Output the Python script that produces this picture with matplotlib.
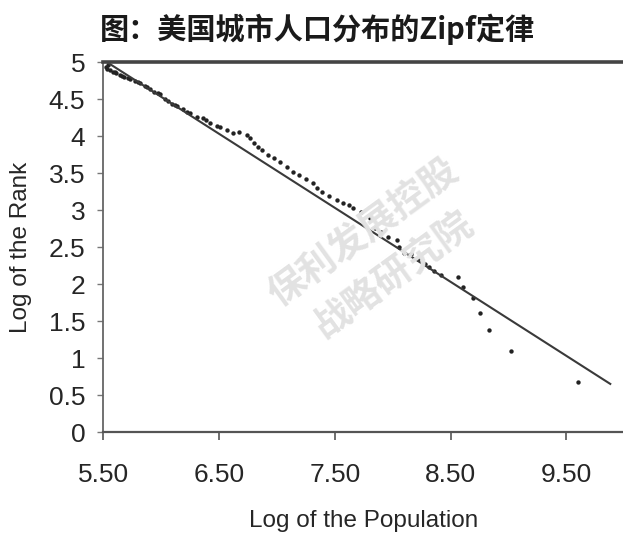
import numpy as np
import matplotlib
matplotlib.use("Agg")
import matplotlib.pyplot as plt

plt.rcParams['font.family'] = ['Liberation Sans', 'Noto Sans CJK SC', 'DejaVu Sans']

# Zipf plot for US cities
log_pop = [5.52, 5.53, 5.54, 5.56, 5.58, 5.60, 5.61, 5.64, 5.66, 5.68, 5.71,
           5.73, 5.77, 5.80, 5.82, 5.86, 5.88, 5.90, 5.94, 5.97, 5.99, 6.03,
           6.06, 6.09, 6.12, 6.14, 6.19, 6.22, 6.25, 6.31, 6.36, 6.39, 6.42,
           6.48, 6.51, 6.57, 6.62, 6.67, 6.74, 6.77, 6.80, 6.84, 6.87, 6.92,
           6.97, 7.03, 7.09, 7.14, 7.19, 7.25, 7.31, 7.35, 7.39, 7.45, 7.52,
           7.57, 7.62, 7.66, 7.73, 7.80, 7.85, 7.90, 7.96, 8.04, 8.05, 8.10,
           8.16, 8.22, 8.28, 8.31, 8.36, 8.42, 8.56, 8.61, 8.69, 8.75, 8.83,
           9.02, 9.60]
log_rank = [4.93, 4.90, 4.96, 4.89, 4.87, 4.86, 4.85, 4.83, 4.81, 4.80, 4.78,
            4.77, 4.75, 4.73, 4.72, 4.68, 4.66, 4.64, 4.60, 4.58, 4.57, 4.50,
            4.47, 4.44, 4.42, 4.40, 4.36, 4.33, 4.31, 4.26, 4.24, 4.22, 4.18,
            4.13, 4.12, 4.08, 4.04, 4.05, 4.01, 3.97, 3.91, 3.85, 3.81, 3.74,
            3.70, 3.65, 3.58, 3.51, 3.47, 3.42, 3.36, 3.30, 3.25, 3.19, 3.14,
            3.10, 3.07, 3.03, 2.97, 2.89, 2.76, 2.70, 2.63, 2.59, 2.50, 2.42,
            2.40, 2.34, 2.27, 2.23, 2.18, 2.12, 2.09, 1.96, 1.81, 1.61, 1.38,
            1.09, 0.68]

# fitted Zipf line: log_rank = intercept + slope * log_pop
fit_intercept = 10.53
fit_slope = -1.0
fit_range = [5.53, 9.88]

x_ticks = [5.5, 6.5, 7.5, 8.5, 9.5]
x_tick_labels = ['5.50', '6.50', '7.50', '8.50', '9.50']
y_ticks = [0, 0.5, 1, 1.5, 2, 2.5, 3, 3.5, 4, 4.5, 5]
y_tick_labels = ['0', '0.5', '1', '1.5', '2', '2.5', '3', '3.5', '4', '4.5', '5']

fig = plt.figure(figsize=(6.23, 5.40), dpi=100)
ax = fig.add_axes([0.166, 0.2, 0.834, 0.685])

# watermark
wm_color = '#e2e2e2'
fig.text(0.583, 0.570, '保利发展控股', rotation=36, ha='center', va='center',
         fontsize=27, fontweight='bold', color=wm_color,
         family=['Noto Sans CJK SC'], zorder=0)
fig.text(0.632, 0.491, '战略研究院', rotation=36, ha='center', va='center',
         fontsize=27, fontweight='bold', color=wm_color,
         family=['Noto Sans CJK SC'], zorder=0)
ax.patch.set_alpha(0)

fx = np.array(fit_range)
ax.plot(fx, fit_intercept + fit_slope * fx, color='#3a3a3a', linewidth=1.5)
ax.scatter(log_pop, log_rank, s=10, color='#222222', linewidths=0)

ax.set_xlim(5.5, 9.99)
ax.set_ylim(0, 5)
ax.set_xticks(x_ticks)
ax.set_xticklabels(x_tick_labels)
ax.set_yticks(y_ticks)
ax.set_yticklabels(y_tick_labels)

ax.tick_params(axis='x', direction='out', length=6, width=1.2, pad=16,
               labelsize=19, colors='#555555', labelcolor='#262626')
ax.tick_params(axis='y', direction='out', length=4, width=1.0, pad=9,
               labelsize=19, colors='#777777', labelcolor='#262626')

ax.spines['right'].set_visible(False)
ax.spines['top'].set_linewidth(2.6)
ax.spines['top'].set_color('#444444')
ax.spines['left'].set_linewidth(1.3)
ax.spines['left'].set_color('#666666')
ax.spines['bottom'].set_linewidth(1.6)
ax.spines['bottom'].set_color('#555555')

ax.set_xlabel('Log of the Population', fontsize=17.5, color='#262626')
ax.set_ylabel('Log of the Rank', fontsize=17.5, color='#262626')
ax.xaxis.set_label_coords(0.5, -0.21)
ax.yaxis.set_label_coords(-0.138, 0.5)

fig.text(0.51, 0.945, '图：美国城市人口分布的Zipf定律', ha='center', va='center',
         fontsize=21, fontweight='bold', color='#1a1a1a',
         family=['Noto Sans CJK SC'])

fig.savefig('out.png', dpi=100)
